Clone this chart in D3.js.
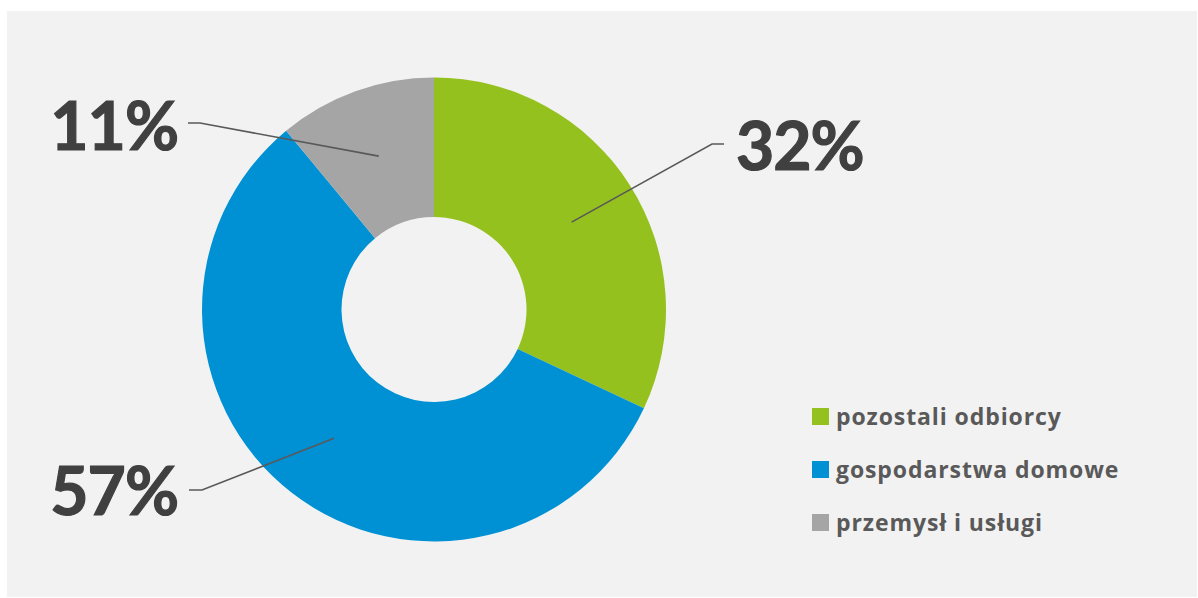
<!DOCTYPE html>
<html>
<head>
<meta charset="utf-8">
<script src="https://cdn.jsdelivr.net/npm/d3@7"></script>
<style>
  body { margin: 0; background: #ffffff; }
  svg { display: block; }
</style>
</head>
<body>
<div id="chart"></div>
<script>
// chart data
const categories = ["pozostali odbiorcy", "gospodarstwa domowe", "przemysł i usługi"];
const shares = [32, 57, 11];
const colors = ["#95c11f", "#0091d4", "#a5a5a5"];

const width = 1198;
const height = 598;

const svg = d3
  .select("#chart")
  .append("svg")
  .attr("width", width)
  .attr("height", height);

// light grey panel
svg
  .append("rect")
  .attr("x", 7)
  .attr("y", 11)
  .attr("width", 1190)
  .attr("height", 586)
  .attr("fill", "#f2f2f2");

const cx = 434;
const cy = 309.5;
const outerR = 232;
const innerR = 92.5;

const pie = d3.pie().sort(null).value((d) => d);
const arcs = pie(shares);

const arc = d3.arc().innerRadius(innerR).outerRadius(outerR);

const g = svg.append("g").attr("transform", `translate(${cx},${cy})`);

g.selectAll("path.slice")
  .data(arcs)
  .join("path")
  .attr("class", "slice")
  .attr("d", arc)
  .attr("fill", (d, i) => colors[i]);

// leader lines end inside the slice at radius 163 on the mid angle
const pointArc = d3.arc().innerRadius(163).outerRadius(163);

// label layout (absolute page coords): text anchor point + elbow
const labelLayout = [
  { tx: 736, ty: 170, anchor: "start", elbow: [712, 144], lineEnd: [724, 144] },
  { tx: 178, ty: 515, anchor: "end", elbow: [202, 490], lineEnd: [189, 490] },
  { tx: 178, ty: 150, anchor: "end", elbow: [200, 123], lineEnd: [188, 123] },
];

arcs.forEach((d, i) => {
  const [px, py] = pointArc.centroid(d);
  const lay = labelLayout[i];
  svg
    .append("polyline")
    .attr(
      "points",
      [[cx + px, cy + py], lay.elbow, lay.lineEnd].map((p) => p.join(",")).join(" ")
    )
    .attr("fill", "none")
    .attr("stroke", "#595959")
    .attr("stroke-width", 1.6);

  svg
    .append("text")
    .attr("x", lay.tx)
    .attr("y", lay.ty)
    .attr("text-anchor", lay.anchor)
    .attr("font-family", "Lato, sans-serif")
    .attr("font-weight", "bold")
    .attr("font-size", 66)
    .attr("fill", "#404040")
    .attr("stroke", "#404040")
    .attr("stroke-width", 1.2)
    .attr("letter-spacing", -1)
    .text(`${shares[i]}%`);
});

// legend
const legend = svg.append("g").attr("transform", "translate(812,408)");

const rows = legend
  .selectAll("g.row")
  .data(categories)
  .join("g")
  .attr("class", "row")
  .attr("transform", (d, i) => `translate(0,${i * 53})`);

rows
  .append("rect")
  .attr("width", 17)
  .attr("height", 17)
  .attr("fill", (d, i) => colors[i]);

rows
  .append("text")
  .attr("x", 24)
  .attr("y", 17)
  .attr("font-family", "'Open Sans', sans-serif")
  .attr("font-weight", "bold")
  .attr("font-size", 23)
  .attr("letter-spacing", 0.9)
  .attr("fill", "#595959")
  .text((d) => d);
</script>
</body>
</html>
